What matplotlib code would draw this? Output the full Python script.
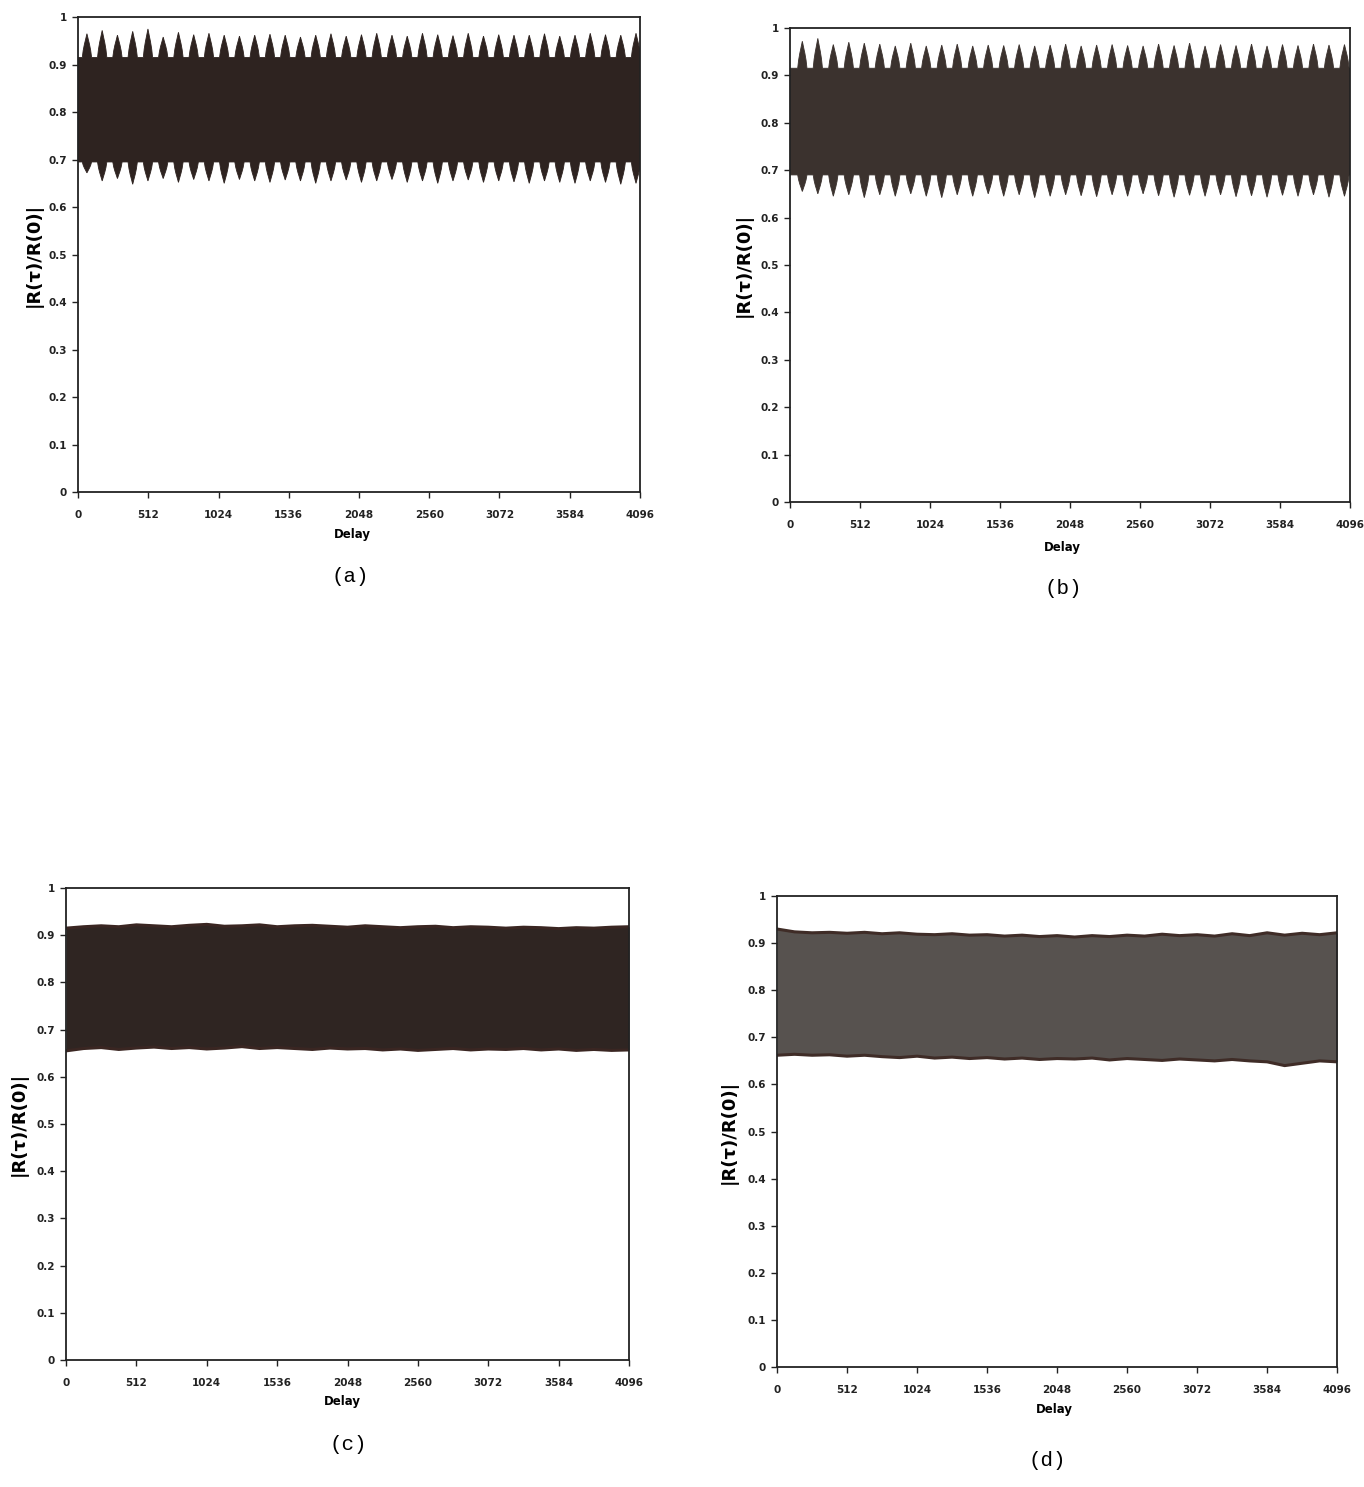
import numpy as np
import matplotlib
matplotlib.use("Agg")
import matplotlib.pyplot as plt

# delay axis
xticks = [0, 512, 1024, 1536, 2048, 2560, 3072, 3584, 4096]
yticks = [0, 0.1, 0.2, 0.3, 0.4, 0.5, 0.6, 0.7, 0.8, 0.9, 1]
ytick_labels = ["0", "0.1", "0.2", "0.3", "0.4", "0.5", "0.6", "0.7", "0.8", "0.9", "1"]

# panel (a): periodic band, flat body + spikes
a_first, a_last = 65, 4067
a_body = (0.695, 0.915)
a_peak = [0.965, 0.972, 0.962, 0.970, 0.975, 0.958, 0.968, 0.963, 0.966, 0.962,
          0.960, 0.962, 0.964, 0.962, 0.958, 0.962, 0.965, 0.960, 0.963, 0.966,
          0.962, 0.960, 0.966, 0.963, 0.961, 0.966, 0.960, 0.963, 0.962, 0.962,
          0.965, 0.960, 0.962, 0.966, 0.963, 0.962, 0.966]
a_trough = [0.672, 0.655, 0.660, 0.648, 0.655, 0.660, 0.652, 0.658, 0.655, 0.650,
            0.658, 0.655, 0.652, 0.657, 0.655, 0.650, 0.655, 0.657, 0.652, 0.655,
            0.658, 0.652, 0.655, 0.650, 0.655, 0.657, 0.652, 0.655, 0.653, 0.650,
            0.655, 0.652, 0.650, 0.655, 0.652, 0.648, 0.650]

# panel (b)
b_first, b_last = 90, 4055
b_body = (0.69, 0.915)
b_peak = [0.972, 0.978, 0.965, 0.970, 0.968, 0.966, 0.962, 0.968, 0.962, 0.964,
          0.966, 0.962, 0.964, 0.963, 0.965, 0.962, 0.964, 0.966, 0.962, 0.964,
          0.965, 0.963, 0.962, 0.966, 0.963, 0.968, 0.962, 0.965, 0.963, 0.966,
          0.962, 0.965, 0.963, 0.966, 0.964, 0.965]
b_trough = [0.655, 0.650, 0.645, 0.648, 0.642, 0.648, 0.645, 0.650, 0.645, 0.642,
            0.648, 0.645, 0.650, 0.645, 0.648, 0.642, 0.645, 0.648, 0.646, 0.644,
            0.648, 0.645, 0.650, 0.646, 0.643, 0.647, 0.645, 0.648, 0.644, 0.646,
            0.643, 0.647, 0.645, 0.648, 0.643, 0.645]

# panels (c), (d): noisy band, edges read every 128 delays
edge_x = np.arange(0, 4097, 128)
c_top = [0.915, 0.918, 0.920, 0.918, 0.922, 0.920, 0.918, 0.921, 0.923, 0.919,
         0.920, 0.922, 0.918, 0.920, 0.921, 0.919, 0.917, 0.920, 0.918, 0.916,
         0.918, 0.919, 0.916, 0.918, 0.917, 0.915, 0.917, 0.916, 0.914, 0.916,
         0.915, 0.917, 0.918]
c_bot = [0.655, 0.660, 0.662, 0.658, 0.661, 0.663, 0.660, 0.662, 0.659, 0.661,
         0.664, 0.660, 0.662, 0.660, 0.658, 0.661, 0.659, 0.660, 0.657, 0.659,
         0.656, 0.658, 0.660, 0.657, 0.659, 0.658, 0.660, 0.657, 0.659, 0.656,
         0.658, 0.656, 0.657]
d_top = [0.930, 0.924, 0.922, 0.923, 0.921, 0.923, 0.920, 0.922, 0.919, 0.918,
         0.920, 0.917, 0.918, 0.915, 0.917, 0.914, 0.916, 0.913, 0.916, 0.914,
         0.917, 0.915, 0.919, 0.916, 0.918, 0.915, 0.920, 0.916, 0.922, 0.917,
         0.921, 0.918, 0.922]
d_bot = [0.662, 0.664, 0.662, 0.663, 0.660, 0.662, 0.659, 0.657, 0.660, 0.656,
         0.658, 0.655, 0.657, 0.654, 0.656, 0.653, 0.655, 0.654, 0.656, 0.652,
         0.655, 0.653, 0.651, 0.654, 0.652, 0.650, 0.653, 0.650, 0.648, 0.640,
         0.645, 0.650, 0.648]

panels = ["(a)", "(b)", "(c)", "(d)"]


def spiky_band(ax, first, last, body, peaks, troughs, color):
    n = len(peaks)
    centers = np.linspace(first, last, n)
    w = 34.0
    # tooth profile: rounded bulb with pointed tip
    px = np.array([-1.0, -0.8, -0.55, -0.3, -0.12, 0.0, 0.12, 0.3, 0.55, 0.8, 1.0])
    pf = np.array([0.0, 0.3, 0.55, 0.75, 0.9, 1.0, 0.9, 0.75, 0.55, 0.3, 0.0])
    ux, uy, lx, ly = [0.0], [body[1]], [0.0], [body[0]]
    for c, p, t in zip(centers, peaks, troughs):
        ux += list(c + w * px)
        uy += list(body[1] + (p - body[1]) * pf)
        lx += list(c + w * px)
        ly += list(body[0] + (t - body[0]) * pf)
    ux.append(4096); uy.append(body[1])
    lx.append(4096); ly.append(body[0])
    ux, uy, lx, ly = map(np.array, (ux, uy, lx, ly))
    ux = np.clip(ux, 0, 4096); lx = np.clip(lx, 0, 4096)
    ax.fill(np.concatenate([ux, lx[::-1]]), np.concatenate([uy, ly[::-1]]),
            color=color, lw=0.6, ec=color)


def flat_band(ax, top, bot, color, edge):
    ax.fill_between(edge_x, bot, top, color=color, lw=0)
    ax.plot(edge_x, top, color=edge, lw=2.2)
    ax.plot(edge_x, bot, color=edge, lw=2.2)


fig = plt.figure(figsize=(13.64, 14.87), dpi=100)
rects = [
    [0.0572, 0.6691, 0.4120, 0.3194],
    [0.5792, 0.6624, 0.4106, 0.3188],
    [0.0484, 0.0854, 0.4128, 0.3174],
    [0.5697, 0.0807, 0.4106, 0.3167],
]
ylab_pos = [(-0.063, 0.5), (-0.066, 0.5), (-0.068, 0.5), (-0.070, 0.5)]
xlab_pos = [(0.488, -0.076), (0.486, -0.083), (0.49, -0.075), (0.495, -0.077)]
tag_pos = [(350, 577), (1063, 589), (348, 1445), (1047, 1461)]

axes = [fig.add_axes(r) for r in rects]
spiky_band(axes[0], a_first, a_last, a_body, a_peak, a_trough, "#2e2320")
spiky_band(axes[1], b_first, b_last, b_body, b_peak, b_trough, "#3b322e")
flat_band(axes[2], c_top, c_bot, "#2f2522", "#3a2622")
flat_band(axes[3], d_top, d_bot, "#57524f", "#3f2c27")

for i, ax in enumerate(axes):
    ax.set_xlim(0, 4096)
    ax.set_ylim(0, 1)
    ax.set_xticks(xticks)
    ax.set_xticklabels([str(v) for v in xticks], fontsize=7.5, fontweight="bold")
    ax.set_yticks(yticks)
    ax.set_yticklabels(ytick_labels, fontsize=7.5, fontweight="bold")
    ax.tick_params(direction="out", length=4, width=1, pad=4, colors="#222222")
    ax.tick_params(axis="x", pad=9)
    for s in ax.spines.values():
        s.set_linewidth(1.3)
        s.set_color("#222222")
    ax.set_ylabel("|R(τ)/R(0)|", fontsize=13, fontweight="bold")
    ax.yaxis.set_label_coords(*ylab_pos[i])
    ax.set_xlabel("Delay", fontsize=8.5, fontweight="bold")
    ax.xaxis.set_label_coords(*xlab_pos[i])
    tx, ty = tag_pos[i]
    fig.text(tx / 1364, 1 - ty / 1487, panels[i], ha="center", va="center",
             fontsize=15, family="Liberation Mono")

fig.savefig("out.png", dpi=100, facecolor="white")
